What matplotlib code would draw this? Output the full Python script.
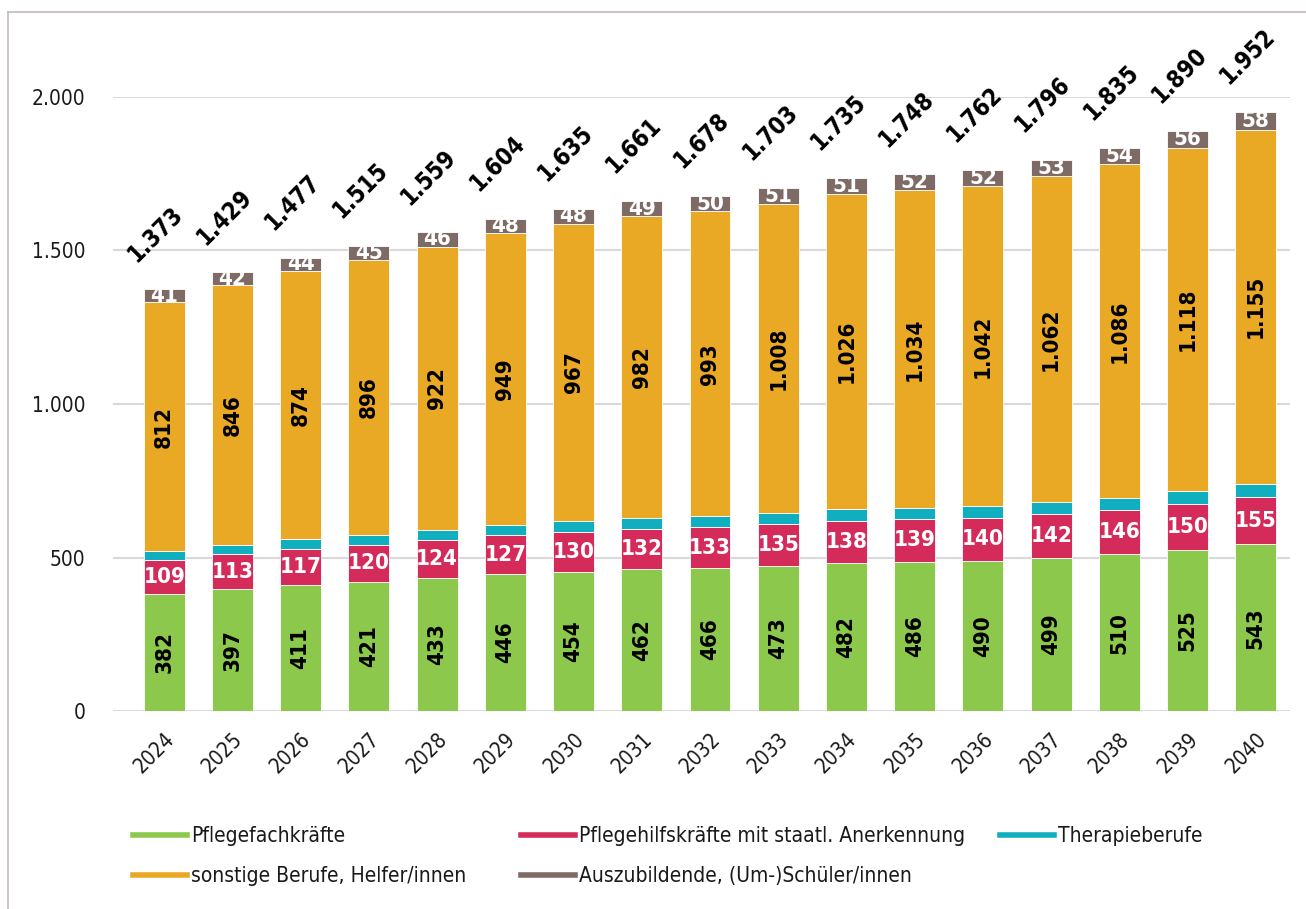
import numpy as np
import matplotlib
matplotlib.use("Agg")
import matplotlib.pyplot as plt
from matplotlib.lines import Line2D

# -------------------------------
# Data (in 1.000)
# -------------------------------
years = [str(y) for y in range(2024, 2041)]
fachkraefte = [382, 397, 411, 421, 433, 446, 454, 462, 466, 473, 482, 486, 490, 499, 510, 525, 543]
hilfskraefte = [109, 113, 117, 120, 124, 127, 130, 132, 133, 135, 138, 139, 140, 142, 146, 150, 155]
therapie = [29, 31, 31, 33, 34, 34, 36, 36, 36, 36, 38, 37, 38, 40, 39, 41, 41]
sonstige = [812, 846, 874, 896, 922, 949, 967, 982, 993, 1008, 1026, 1034, 1042, 1062, 1086, 1118, 1155]
auszubildende = [41, 42, 44, 45, 46, 48, 48, 49, 50, 51, 51, 52, 52, 53, 54, 56, 58]

series_names = ["Pflegefachkräfte", "Pflegehilfskräfte mit staatl. Anerkennung", "Therapieberufe",
                "sonstige Berufe, Helfer/innen", "Auszubildende, (Um-)Schüler/innen"]
colors = ["#8cc84b", "#d42b5a", "#10afc0", "#e9a925", "#7f6b66"]

plt.rcParams['font.family'] = ['DejaVu Sans']
plt.rcParams['font.stretch'] = 'condensed'


def fmt(v):
    # German thousands separator
    return f"{v:,}".replace(",", ".")


# -------------------------------
# Figure
# -------------------------------
fig = plt.figure(figsize=(13.06, 9.09), dpi=100)
ax = fig.add_axes([0.0865, 0.2178, 0.9012, 0.6755])

x = np.arange(len(years))
width = 0.6
stack = [fachkraefte, hilfskraefte, therapie, sonstige, auszubildende]
bottom = np.zeros(len(years))
segments = []
for vals, col in zip(stack, colors):
    vals = np.array(vals)
    ax.bar(x, vals, width, bottom=bottom, color=col, edgecolor='white', linewidth=0.6, zorder=3)
    segments.append((vals, bottom.copy()))
    bottom += vals

# segment labels (Therapieberufe stays unlabelled)
label_style = {
    0: dict(color='black', rotation=90),
    1: dict(color='white', rotation=0),
    3: dict(color='black', rotation=90),
    4: dict(color='white', rotation=0),
}
for k, style in label_style.items():
    vals, bot = segments[k]
    for i in range(len(years)):
        ax.text(x[i], bot[i] + vals[i] / 2, fmt(vals[i]), ha='center', va='center',
                fontsize=16, fontweight='bold', zorder=4, **style)

# totals above bars
totals = bottom
for i in range(len(years)):
    ax.annotate(fmt(int(totals[i])), (x[i], totals[i]), xytext=(-6, 40), textcoords='offset points',
                ha='center', va='center', rotation=45, fontsize=17, fontweight='bold',
                annotation_clip=False)

# axes styling
ax.set_xlim(-0.75, 16.5)
ax.set_ylim(0, 2000)
ax.set_yticks([0, 500, 1000, 1500, 2000])
ax.set_yticklabels([fmt(v) for v in [0, 500, 1000, 1500, 2000]])
ax.set_xticks(x)
ax.set_xticklabels(years)
ax.tick_params(axis='both', length=0, labelsize=15, colors='#1a1a1a')
ax.tick_params(axis='y', pad=20)
ax.tick_params(axis='x', pad=13)
plt.setp(ax.get_xticklabels(), rotation=45, ha='right', rotation_mode='anchor')
ax.grid(axis='y', color='#d9d9d9', linewidth=1.5, zorder=0)
for s in ax.spines.values():
    s.set_visible(False)

# legend, laid out as three columns
handles = [Line2D([0], [0], color=c, lw=4) for c in colors]
columns = [([0, 3], 133), ([1, 4], 521), ([2], 1000)]
for idx, xpix in columns:
    leg = fig.legend([handles[i] for i in idx], [series_names[i] for i in idx],
                     loc='upper left', bbox_to_anchor=(xpix / 1306, 1 - 826 / 909), frameon=False,
                     fontsize=15, handlelength=2.6, handletextpad=0.2,
                     labelspacing=0.95, borderpad=0, borderaxespad=0)
    for t in leg.get_texts():
        t.set_color('#1a1a1a')

# outer frame
frame_col = '#c4b9b9'
fig.add_artist(Line2D([8 / 1306, 1.01], [1 - 12 / 909] * 2, transform=fig.transFigure, color=frame_col, lw=1.2))
fig.add_artist(Line2D([8 / 1306] * 2, [-0.01, 1 - 12 / 909], transform=fig.transFigure, color=frame_col, lw=1.2))

fig.savefig("out.png", dpi=100)
